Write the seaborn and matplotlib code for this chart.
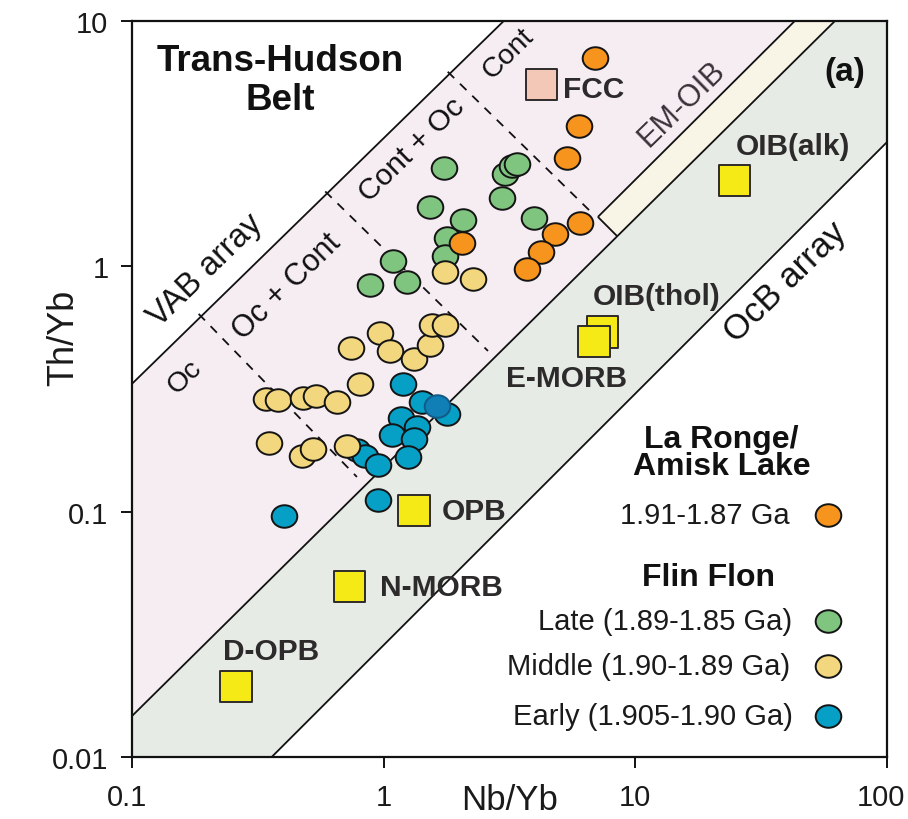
import numpy as np
import pandas as pd
import matplotlib
matplotlib.use("Agg")
import matplotlib.pyplot as plt
import matplotlib.transforms as mtransforms
from matplotlib.path import Path
from matplotlib.ticker import FixedLocator, NullLocator, FixedFormatter
import seaborn as sns

# ---------------- sample ratios ----------------
# La Ronge / Amisk Lake, 1.91-1.87 Ga
la_ronge_nb = [6.91, 5.97, 5.35, 6.03, 4.79, 4.22, 3.71, 2.05]
la_ronge_th = [7.07, 3.74, 2.77, 1.50, 1.36, 1.14, 0.976, 1.246]

# Flin Flon, late (1.89-1.85 Ga)
late_nb = [1.736, 1.528, 2.066, 1.784, 1.752, 1.089, 0.882, 1.238,
           3.03, 3.23, 3.39, 2.95, 3.96]
late_th = [2.52, 1.747, 1.546, 1.306, 1.103, 1.052, 0.840, 0.864,
           2.38, 2.57, 2.62, 1.90, 1.575]

# Flin Flon, middle (1.90-1.89 Ga)
middle_nb = [0.967, 0.741, 1.059, 1.32, 1.528, 1.556, 1.752, 0.805,
             0.3406, 0.380, 0.478, 0.538, 0.652, 0.350, 0.474, 0.524,
             0.715, 1.752, 2.264]
middle_th = [0.535, 0.465, 0.452, 0.419, 0.478, 0.577, 0.577, 0.332,
             0.288, 0.285, 0.291, 0.296, 0.280, 0.1906, 0.1687, 0.180,
             0.1853, 0.949, 0.888]

# Flin Flon, early (1.905-1.90 Ga)
early_nb = [0.783, 1.193, 1.419, 1.784, 1.171, 1.356, 1.079, 1.32,
            0.843, 0.949, 1.249, 0.949, 0.4016]
early_th = [0.1785, 0.332, 0.280, 0.250, 0.241, 0.2215, 0.2055, 0.198,
            0.1687, 0.155, 0.167, 0.1116, 0.0961]
early_overlap_nb = [1.628]
early_overlap_th = [0.270]

# Reference compositions
ref_names = ["FCC", "OIB(alk)", "OIB(thol)", "E-MORB", "OPB", "N-MORB", "D-OPB"]
ref_nb = [4.22, 24.7, 7.43, 6.85, 1.32, 0.734, 0.259]
ref_th = [5.49, 2.23, 0.540, 0.492, 0.1007, 0.0497, 0.0193]

# Diagram fields (Nb/Yb, Th/Yb vertices)
vab_line = [(0.1, 0.332), (3.0, 10.0)]
morb_upper = [(0.1, 0.01469), (62.1, 10.0)]
morb_lower = [(0.359, 0.01), (100.0, 3.21)]
emoib_edge = [(7.10, 1.59), (43.0, 10.0)]
emoib_cap = [(7.10, 1.59), (8.45, 1.33)]
divider_lines = [
    [(0.184, 0.64), (0.783, 0.1385)],
    [(0.586, 2.02), (2.597, 0.452)],
    [(1.797, 6.21), (6.79, 1.635)],
]

x_ticks = [0.1, 1, 10, 100]
x_ticklabels = ["0.1", "1", "10", "100"]
y_ticks = [0.01, 0.1, 1, 10]
y_ticklabels = ["0.01", "0.1", "1", "10"]

# ---------------- styling ----------------
sns.set_style("ticks")
plt.rcParams["font.family"] = ["Liberation Sans", "DejaVu Sans"]

C_ORANGE = "#f7941d"
C_GREEN = "#7fc47f"
C_YELLOW = "#f3d77e"
C_BLUE = "#06a0c6"
C_BLUE_DARK = "#0f7fb6"
EDGE = "#141414"
PINK = "#f6edf3"
GREY = "#e6ebe6"
CREAM = "#f8f4e6"

# slightly flattened circle used for the sample symbols
circ = Path.unit_circle()
oval = Path(circ.vertices * np.array([1.0, 0.88]), circ.codes)

fig = plt.figure(figsize=(9.08, 8.2), dpi=100)
ax = fig.add_axes([132 / 908, 1 - 758 / 820, 755 / 908, 736 / 820])
ax.set_xscale("log")
ax.set_yscale("log")
ax.set_xlim(0.1, 100)
ax.set_ylim(0.01, 10)

# fields
pink_poly = [vab_line[0], vab_line[1], emoib_edge[1], emoib_edge[0],
             emoib_cap[1], morb_upper[0]]
grey_poly = [morb_upper[0], emoib_cap[1], morb_upper[1], (100, 10),
             morb_lower[1], morb_lower[0], (0.1, 0.01)]
cream_poly = [emoib_edge[0], emoib_edge[1], morb_upper[1], emoib_cap[1]]
for poly, col in [(pink_poly, PINK), (grey_poly, GREY), (cream_poly, CREAM)]:
    xs, ys = zip(*poly)
    ax.fill(xs, ys, color=col, lw=0, zorder=0)

for seg in [vab_line, morb_upper, morb_lower, emoib_edge, emoib_cap]:
    xs, ys = zip(*seg)
    ax.plot(xs, ys, color="#111111", lw=1.3, zorder=1, solid_capstyle="butt")
for seg in divider_lines:
    xs, ys = zip(*seg)
    ax.plot(xs, ys, color="#111111", lw=1.3, ls=(0, (5, 4.5)), zorder=1)

# reference compositions
ref_df = pd.DataFrame({"Nb/Yb": ref_nb, "Th/Yb": ref_th, "name": ref_names})
ref_colors = {n: ("#f3c8b6" if n == "FCC" else "#f5e916") for n in ref_names}
sns.scatterplot(data=ref_df, x="Nb/Yb", y="Th/Yb", hue="name",
                palette=ref_colors, marker="s", s=500, edgecolor="#2e2a2a",
                linewidth=1.4, legend=False, ax=ax, zorder=3)

# samples
groups = [
    (late_nb, late_th, C_GREEN),
    (early_nb, early_th, C_BLUE),
    (early_overlap_nb, early_overlap_th, C_BLUE_DARK),
    (middle_nb, middle_th, C_YELLOW),
    (la_ronge_nb, la_ronge_th, C_ORANGE),
]
for i, (nb, th, col) in enumerate(groups):
    df = pd.DataFrame({"Nb/Yb": nb, "Th/Yb": th})
    ec = "#125a86" if col == C_BLUE_DARK else EDGE
    sns.scatterplot(data=df, x="Nb/Yb", y="Th/Yb", color=col, marker=oval,
                    s=340, edgecolor=ec, linewidth=1.4, legend=False,
                    ax=ax, zorder=4 + i)

# axes
ax.xaxis.set_major_locator(FixedLocator(x_ticks))
ax.xaxis.set_major_formatter(FixedFormatter(x_ticklabels))
ax.yaxis.set_major_locator(FixedLocator(y_ticks))
ax.yaxis.set_major_formatter(FixedFormatter(y_ticklabels))
ax.xaxis.set_minor_locator(NullLocator())
ax.yaxis.set_minor_locator(NullLocator())
ax.tick_params(axis="both", which="major", direction="out", length=8,
               width=1.4, color="#111111", labelsize=21, labelcolor="#1a1a1a")
ax.tick_params(axis="x", pad=11)
ax.tick_params(axis="y", pad=9)
for sp in ax.spines.values():
    sp.set_linewidth(1.6)
    sp.set_color("#111111")

# end labels of the x axis sit slightly left of their ticks
xlabels = ax.get_xticklabels()
for lab, dx in [(xlabels[0], -5), (xlabels[-1], -6)]:
    lab.set_transform(lab.get_transform()
                      + mtransforms.ScaledTranslation(dx / 100, 0, fig.dpi_scale_trans))

ax.set_xlabel("Nb/Yb", fontsize=25, color="#1a1a1a")
ax.set_ylabel("Th/Yb", fontsize=26, color="#1a1a1a")
ax.xaxis.label.set_va("center")
ax.yaxis.label.set_va("center")
ax.xaxis.set_label_coords(0.5007, -0.058)
ax.yaxis.set_label_coords(-0.091, 0.571)

T = ax.transAxes
DARK = "#2d2a2b"

# title block
ax.text(0.196, 0.9457, "Trans-Hudson", transform=T, ha="center", va="center",
        fontsize=26.5, fontweight="bold", color="#111111", zorder=10)
ax.text(0.196, 0.894, "Belt", transform=T, ha="center", va="center",
        fontsize=26.5, fontweight="bold", color="#111111", zorder=10)
ax.text(0.944, 0.932, "(a)", transform=T, ha="center", va="center",
        fontsize=24, fontweight="bold", color="#111111", zorder=10)

# field names
rot = 44.3
field_labels = [
    ("VAB array", 0.098, 0.662, 23.5, "#111111"),
    ("Oc + Cont", 0.2053, 0.640, 22, "#111111"),
    ("Oc", 0.070, 0.5177, 20.5, "#111111"),
    ("Cont + Oc", 0.371, 0.826, 21.5, "#111111"),
    ("Cont", 0.498, 0.9565, 20.5, "#111111"),
    ("EM-OIB", 0.7285, 0.8886, 22, "#3a3038"),
    ("OcB array", 0.865, 0.6454, 25, "#111111"),
]
for txt, fx, fy, fs, col in field_labels:
    ax.text(fx, fy, txt, transform=T, ha="center", va="center", rotation=rot,
            rotation_mode="anchor", fontsize=fs, color=col, zorder=10)

# reference labels
ref_label_pos = {
    "FCC": (0.571, 0.9076, "left"),
    "OIB(alk)": (0.8755, 0.830, "center"),
    "OIB(thol)": (0.695, 0.626, "center"),
    "E-MORB": (0.576, 0.515, "center"),
    "OPB": (0.4106, 0.334, "left"),
    "N-MORB": (0.3285, 0.231, "left"),
    "D-OPB": (0.1205, 0.144, "left"),
}
for name in ref_names:
    fx, fy, ha = ref_label_pos[name]
    ax.text(fx, fy, name, transform=T, ha=ha, va="center", fontsize=21.5,
            fontweight="bold", color=DARK, zorder=10)

# key
ax.text(0.781, 0.432, "La Ronge/", transform=T, ha="center", va="center",
        fontsize=23, fontweight="bold", color="#111111", zorder=10)
ax.text(0.781, 0.395, "Amisk Lake", transform=T, ha="center", va="center",
        fontsize=23, fontweight="bold", color="#111111", zorder=10)
ax.text(0.763, 0.2446, "Flin Flon", transform=T, ha="center", va="center",
        fontsize=23, fontweight="bold", color="#111111", zorder=10)
key_rows = [
    ("1.91-1.87 Ga", 0.8715, 0.329, C_ORANGE),
    ("Late (1.89-1.85 Ga)", 0.875, 0.185, C_GREEN),
    ("Middle (1.90-1.89 Ga)", 0.8715, 0.124, C_YELLOW),
    ("Early (1.905-1.90 Ga)", 0.875, 0.056, C_BLUE),
]
for txt, fx, fy, col in key_rows:
    ax.text(fx, fy, txt, transform=T, ha="right", va="center", fontsize=21,
            color="#1a1a1a", zorder=10)
    ax.scatter([0.922], [fy], transform=T, marker=oval, s=340, color=col,
               edgecolor=EDGE, linewidth=1.4, zorder=10, clip_on=False)

fig.savefig("out.png", dpi=100)
